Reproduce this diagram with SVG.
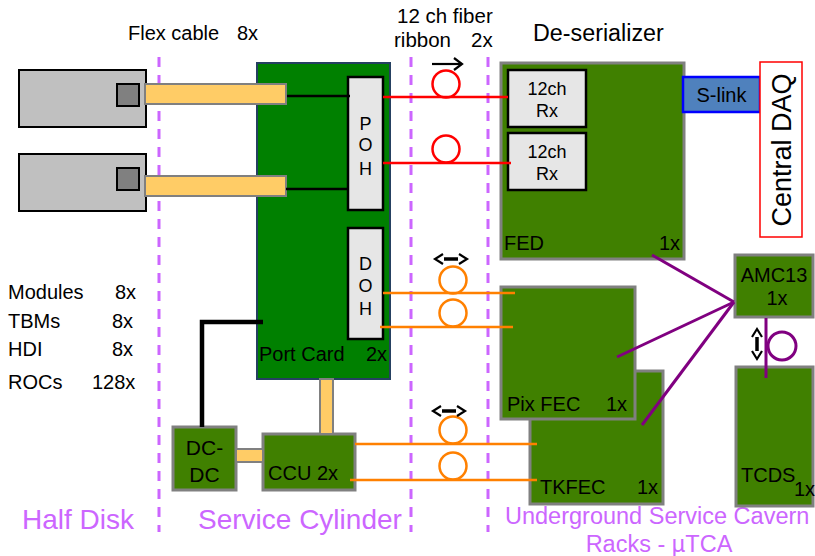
<svg xmlns="http://www.w3.org/2000/svg" width="815" height="556" viewBox="0 0 815 556">
<defs>
<style>
text{font-family:"Liberation Sans",Arial,sans-serif;fill:#000}
.t20{font-size:20px}
.t18{font-size:18px}
.zone{font-size:28px;fill:#CC66FF}
.zone2{font-size:23.5px;fill:#CC66FF}
.div{stroke:#CC66FF;stroke-width:3;stroke-dasharray:10 8;fill:none}
.mod{fill:#C0C0C0;stroke:#000;stroke-width:2}
.chip{fill:#808080;stroke:#000;stroke-width:2}
.cable{fill:#FFCC66;stroke:#808080;stroke-width:2}
.olive{fill:#408000;stroke:#808080;stroke-width:3}
.lgray{fill:#E6E6E6;stroke:#000;stroke-width:2.5}
.red{stroke:#FF0000;stroke-width:2.5;fill:none}
.org{stroke:#FF8000;stroke-width:2.5;fill:none}
.pur{stroke:#800080;stroke-width:3;fill:none}
.blk{stroke:#000;stroke-width:2.5;fill:none}
.arr{stroke:#000;stroke-width:2.2;fill:none}
.bar{stroke:#000;stroke-width:3.5;fill:none}
</style>
</defs>

<g id="dividers">
<line class="div" x1="159" y1="57" x2="159" y2="532"/>
<line class="div" x1="411" y1="57" x2="411" y2="532"/>
<line class="div" x1="488" y1="57" x2="488" y2="532"/>
</g>

<g id="labels">
<text class="t20" x="128" y="40">Flex cable</text>
<text class="t20" x="237" y="40">8x</text>
<text x="397" y="23" style="font-size:20.5px">12 ch fiber</text>
<text x="394" y="47" style="font-size:20.5px">ribbon</text>
<text x="471" y="47" style="font-size:20.5px">2x</text>
<text x="533" y="41" style="font-size:23.3px">De-serializer</text>
<text class="t20" x="8" y="299">Modules</text><text class="t20" x="115" y="299">8x</text>
<text class="t20" x="8" y="328">TBMs</text><text class="t20" x="112" y="328">8x</text>
<text class="t20" x="8" y="356">HDI</text><text class="t20" x="112" y="356">8x</text>
<text class="t20" x="8" y="389">ROCs</text><text class="t20" x="92" y="389">128x</text>
<text class="zone" x="22" y="529">Half Disk</text>
<text class="zone" x="198" y="529">Service Cylinder</text>
<text class="zone2" x="505" y="524">Underground Service Cavern</text>
<text class="zone2" x="659" y="552" text-anchor="middle">Racks - µTCA</text>
</g>

<g id="module1">
<rect class="mod" x="19" y="70" width="127" height="57"/>
<rect class="chip" x="117" y="84" width="22" height="22"/>
</g>
<g id="module2">
<rect class="mod" x="19" y="154" width="127" height="57"/>
<rect class="chip" x="117" y="168" width="22" height="22"/>
</g>

<g id="portcard">
<rect x="257" y="63" width="133" height="316" fill="#008000" stroke="#254061" stroke-width="2"/>
<text class="t20" x="259" y="361">Port Card</text>
<text class="t20" x="366" y="361">2x</text>
</g>

<g id="flexcables">
<rect class="cable" x="145" y="84" width="141" height="20"/>
<rect class="cable" x="145" y="176" width="141" height="20"/>
</g>

<g id="poh">
<rect class="lgray" x="348" y="77" width="35" height="133"/>
<text class="t18" x="365.5" y="130" text-anchor="middle">P</text>
<text class="t18" x="365.5" y="151" text-anchor="middle">O</text>
<text class="t18" x="365.5" y="175" text-anchor="middle">H</text>
</g>
<g id="doh">
<rect class="lgray" x="348" y="228" width="35" height="111"/>
<text class="t18" x="365.5" y="270" text-anchor="middle">D</text>
<text class="t18" x="365.5" y="292" text-anchor="middle">O</text>
<text class="t18" x="365.5" y="315" text-anchor="middle">H</text>
</g>

<g id="dcdc">
<rect class="olive" x="173" y="427" width="63" height="63"/>
<text x="204.5" y="455" text-anchor="middle" style="font-size:21px">DC-</text>
<text x="204.5" y="482" text-anchor="middle" style="font-size:21px">DC</text>
</g>
<g id="ccu">
<rect class="olive" x="263" y="434" width="92" height="56"/>
<text class="t20" x="268" y="480">CCU 2x</text>
</g>

<g id="fed">
<rect class="olive" x="501" y="63" width="183" height="196"/>
<text class="t20" x="504" y="250">FED</text>
<text class="t20" x="680" y="250" text-anchor="end">1x</text>
</g>
<g id="rx1">
<rect class="lgray" x="508" y="70" width="78" height="57"/>
<text class="t18" x="547" y="95" text-anchor="middle">12ch</text>
<text class="t18" x="547" y="117" text-anchor="middle">Rx</text>
</g>
<g id="rx2">
<rect class="lgray" x="508" y="133" width="78" height="57"/>
<text class="t18" x="547" y="158" text-anchor="middle">12ch</text>
<text class="t18" x="547" y="180" text-anchor="middle">Rx</text>
</g>
<g id="slink">
<rect x="683" y="77" width="77" height="35" fill="#4F81BD" stroke="#0000FF" stroke-width="2.5"/>
<text class="t20" x="721.5" y="102" text-anchor="middle">S-link</text>
</g>
<g id="centraldaq">
<rect x="760" y="62" width="42" height="175" fill="#FFFFFF" stroke="#FF0000" stroke-width="1.5"/>
<text x="791" y="150" text-anchor="middle" transform="rotate(-90 791 150)" style="font-size:27px">Central DAQ</text>
</g>

<g id="tkfec">
<rect class="olive" x="530" y="371" width="133" height="133"/>
<text class="t20" x="540" y="494">TKFEC</text>
<text class="t20" x="658" y="494" text-anchor="end">1x</text>
</g>
<g id="pixfec">
<rect class="olive" x="501" y="287" width="134" height="132"/>
<text class="t20" x="507" y="411">Pix FEC</text>
<text class="t20" x="627" y="411" text-anchor="end">1x</text>
</g>
<g id="amc13">
<rect class="olive" x="735" y="255" width="78" height="62"/>
<text class="t20" x="774" y="282" text-anchor="middle">AMC13</text>
<text class="t20" x="777" y="305" text-anchor="middle">1x</text>
</g>
<g id="tcds">
<rect class="olive" x="736" y="367" width="77" height="139"/>
<text class="t20" x="741" y="482">TCDS</text>
<text class="t20" x="794" y="496">1x</text>
</g>

<g id="connectors">
<line class="blk" x1="287" y1="96" x2="350" y2="96"/>
<line class="blk" x1="286" y1="189" x2="348" y2="189"/>
<polyline points="263,322 202,322 202,427" stroke="#000" stroke-width="4.5" fill="none"/>
<rect class="cable" x="320" y="379" width="13" height="55"/>
<rect class="cable" x="236" y="449" width="27" height="13"/>

<line class="red" x1="383" y1="97" x2="508" y2="97"/>
<line class="red" x1="383" y1="163" x2="511" y2="163"/>
<circle class="red" cx="446" cy="84" r="13.5"/>
<circle class="red" cx="446" cy="149" r="13.5"/>
<line class="arr" x1="432" y1="64" x2="462" y2="64"/>
<polyline class="arr" points="454,58 462,64 454,70"/>

<line class="org" x1="383" y1="293" x2="515" y2="293"/>
<line class="org" x1="380" y1="327" x2="513" y2="327"/>
<circle class="org" cx="453" cy="280" r="13.5"/>
<circle class="org" cx="453" cy="313" r="13.5"/>
<line class="bar" x1="444" y1="259" x2="458" y2="259"/>
<polyline class="arr" points="443,254 435,259 443,264"/>
<polyline class="arr" points="459,254 467,259 459,264"/>

<line class="org" x1="355" y1="444" x2="537" y2="444"/>
<line class="org" x1="350" y1="480" x2="537" y2="480"/>
<circle class="org" cx="453" cy="430" r="13.5"/>
<circle class="org" cx="453" cy="466" r="13.5"/>
<line class="bar" x1="442" y1="411" x2="456" y2="411"/>
<polyline class="arr" points="441,406 433,411 441,416"/>
<polyline class="arr" points="457,406 465,411 457,416"/>

<line class="pur" x1="652" y1="255" x2="734" y2="302"/>
<line class="pur" x1="617" y1="357" x2="734" y2="302"/>
<line class="pur" x1="642" y1="425" x2="734" y2="302"/>
<line class="pur" x1="766" y1="318" x2="766" y2="378"/>
<circle class="pur" cx="782" cy="346" r="14"/>
<line class="bar" x1="757" y1="337" x2="757" y2="351"/>
<polyline class="arr" points="752,337 757,329 762,337"/>
<polyline class="arr" points="752,351 757,359 762,351"/>
</g>
</svg>
